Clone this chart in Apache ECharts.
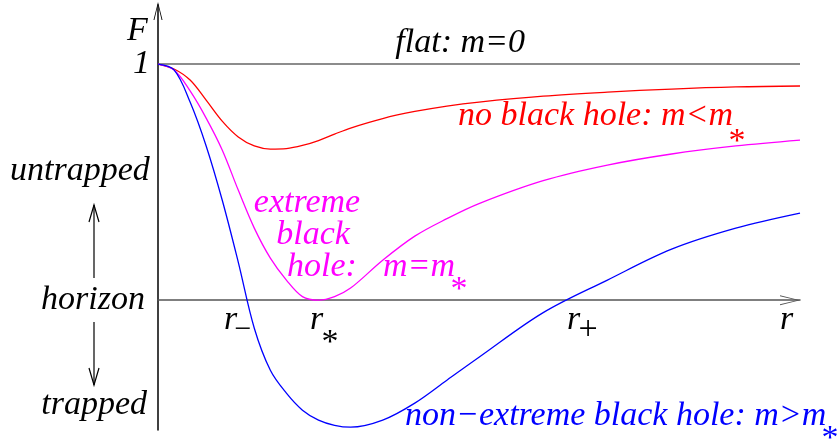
<!DOCTYPE html>
<html>
<head>
<meta charset="utf-8">
<title>F(r)</title>
<script src="https://cdn.jsdelivr.net/npm/echarts@6/dist/echarts.min.js"></script>
<style>
  html, body { margin: 0; padding: 0; background: #fff; }
  #chart { width: 838px; height: 444px; }
</style>
</head>
<body>
<div id="chart"></div>
<script>
  // radius samples (arbitrary units, 0..10)
  var rValues = [0, 0.25, 0.5, 0.75, 1, 1.25, 1.5, 1.75, 2, 2.25, 2.5, 2.75, 3,
                 3.5, 4, 4.5, 5, 6, 7, 8, 9, 10];
  // flat: m=0
  var flatR = [0, 10];
  var flatF = [1, 1];
  // no black hole: m<m*
  var redF = [1.000, 0.979, 0.932, 0.847, 0.758, 0.691, 0.653, 0.640, 0.642, 0.655, 0.676, 0.703, 0.729,
              0.769, 0.799, 0.822, 0.839, 0.864, 0.881, 0.894, 0.903, 0.907];
  // extreme black hole: m=m*
  var magentaF = [1.000, 0.975, 0.886, 0.771, 0.636, 0.466, 0.305, 0.178, 0.085, 0.015, 0.000, 0.015, 0.051,
                  0.169, 0.271, 0.345, 0.409, 0.506, 0.572, 0.619, 0.653, 0.678];
  // non-extreme black hole: m>m*
  var blueF = [1.000, 0.975, 0.839, 0.653, 0.424, 0.161, -0.119, -0.297, -0.394, -0.466, -0.508, -0.530, -0.538,
               -0.508, -0.436, -0.339, -0.242, -0.053, 0.085, 0.216, 0.305, 0.369];

  function pairs(xs, ys) {
    return xs.map(function (x, i) { return [x, ys[i]]; });
  }

  var chart = echarts.init(document.getElementById('chart'));

  var serif = 'Liberation Serif';
  // open arrow head for the axes
  var chevron = 'path://M0,20 L5,0 L10,20 L9,20 L5,3 L1,20 Z';

  function label(text, x, y, color, align, opts) {
    opts = opts || {};
    return {
      type: 'text',
      z: 100,
      style: {
        text: text,
        x: x,
        y: y,
        fill: color || '#000',
        fontFamily: serif,
        fontSize: opts.size || 34,
        fontStyle: opts.upright ? 'normal' : 'italic',
        align: align || 'left',
        verticalAlign: 'middle'
      }
    };
  }
  var up = { upright: true };

  function curve(name, data, color) {
    return {
      name: name,
      type: 'line',
      data: data,
      smooth: 0.35,
      showSymbol: false,
      lineStyle: { color: color, width: 1.3 }
    };
  }

  var option = {
    animation: false,
    grid: { left: 158, right: 38, top: 5, bottom: 14 },
    xAxis: {
      type: 'value',
      min: 0,
      max: 10,
      axisLine: {
        show: true,
        onZero: true,
        symbol: ['none', chevron],
        symbolSize: [16, 20],
        symbolOffset: [0, -10],
        lineStyle: { color: '#555', width: 1.5 }
      },
      axisTick: { show: false },
      axisLabel: { show: false },
      splitLine: { show: false }
    },
    yAxis: {
      type: 'value',
      min: -0.55,
      max: 1.25,
      axisLine: {
        show: true,
        symbol: ['none', chevron],
        symbolSize: [10, 18],
        symbolOffset: [0, -6],
        lineStyle: { color: '#000', width: 1.5 }
      },
      axisTick: { show: false },
      axisLabel: { show: false },
      splitLine: { show: false }
    },
    series: [
      {
        name: 'flat',
        type: 'line',
        data: pairs(flatR, flatF),
        showSymbol: false,
        lineStyle: { color: '#666', width: 1.5 }
      },
      curve('no black hole', pairs(rValues, redF), '#ff0000'),
      curve('extreme black hole', pairs(rValues, magentaF), '#ff00ff'),
      curve('non-extreme black hole', pairs(rValues, blueF), '#0000ff')
    ],
    graphic: [
      label('F', 127, 31.5),
      label('1', 150, 64.5, '#000', 'right'),
      label('flat: m=0', 525, 43.5, '#000', 'right'),
      label('no black hole: m<m', 458, 116.5, '#ff0000'),
      label('*', 737, 142.5, '#ff0000', 'center', up),
      label('extreme', 307, 203.5, '#ff00ff', 'center'),
      label('black', 313, 235.5, '#ff00ff', 'center'),
      label('hole:', 322, 267.5, '#ff00ff', 'center'),
      label('m=m', 383, 267.5, '#ff00ff'),
      label('*', 459, 290.5, '#ff00ff', 'center', up),
      label('untrapped', 10, 171.5),
      label('horizon', 145, 300.5, '#000', 'right'),
      label('trapped', 147, 405.5, '#000', 'right'),
      label('r', 224, 320.5),
      label('\u2212', 243, 330.5, '#000', 'center', { upright: true, size: 30 }),
      label('r', 310, 320.5),
      label('*', 330, 343.5, '#000', 'center', up),
      label('r', 567, 320.5),
      label('+', 588, 330, '#000', 'center', up),
      label('r', 780, 320.5),
      label('non\u2212extreme black hole: m>m', 405, 416.5, '#0000ff'),
      label('*', 830, 439.5, '#0000ff', 'center', up),
      // untrapped / trapped arrows
      { type: 'line', shape: { x1: 94, y1: 278, x2: 94, y2: 205 }, style: { stroke: '#000', lineWidth: 1.2 } },
      { type: 'polyline', shape: { points: [[89, 222], [94, 205], [99, 222]] }, style: { stroke: '#000', lineWidth: 1.2, fill: null } },
      { type: 'line', shape: { x1: 94, y1: 322, x2: 94, y2: 385 }, style: { stroke: '#000', lineWidth: 1.2 } },
      { type: 'polyline', shape: { points: [[89, 368], [94, 385], [99, 368]] }, style: { stroke: '#000', lineWidth: 1.2, fill: null } }
    ]
  };

  chart.setOption(option);
</script>
</body>
</html>
